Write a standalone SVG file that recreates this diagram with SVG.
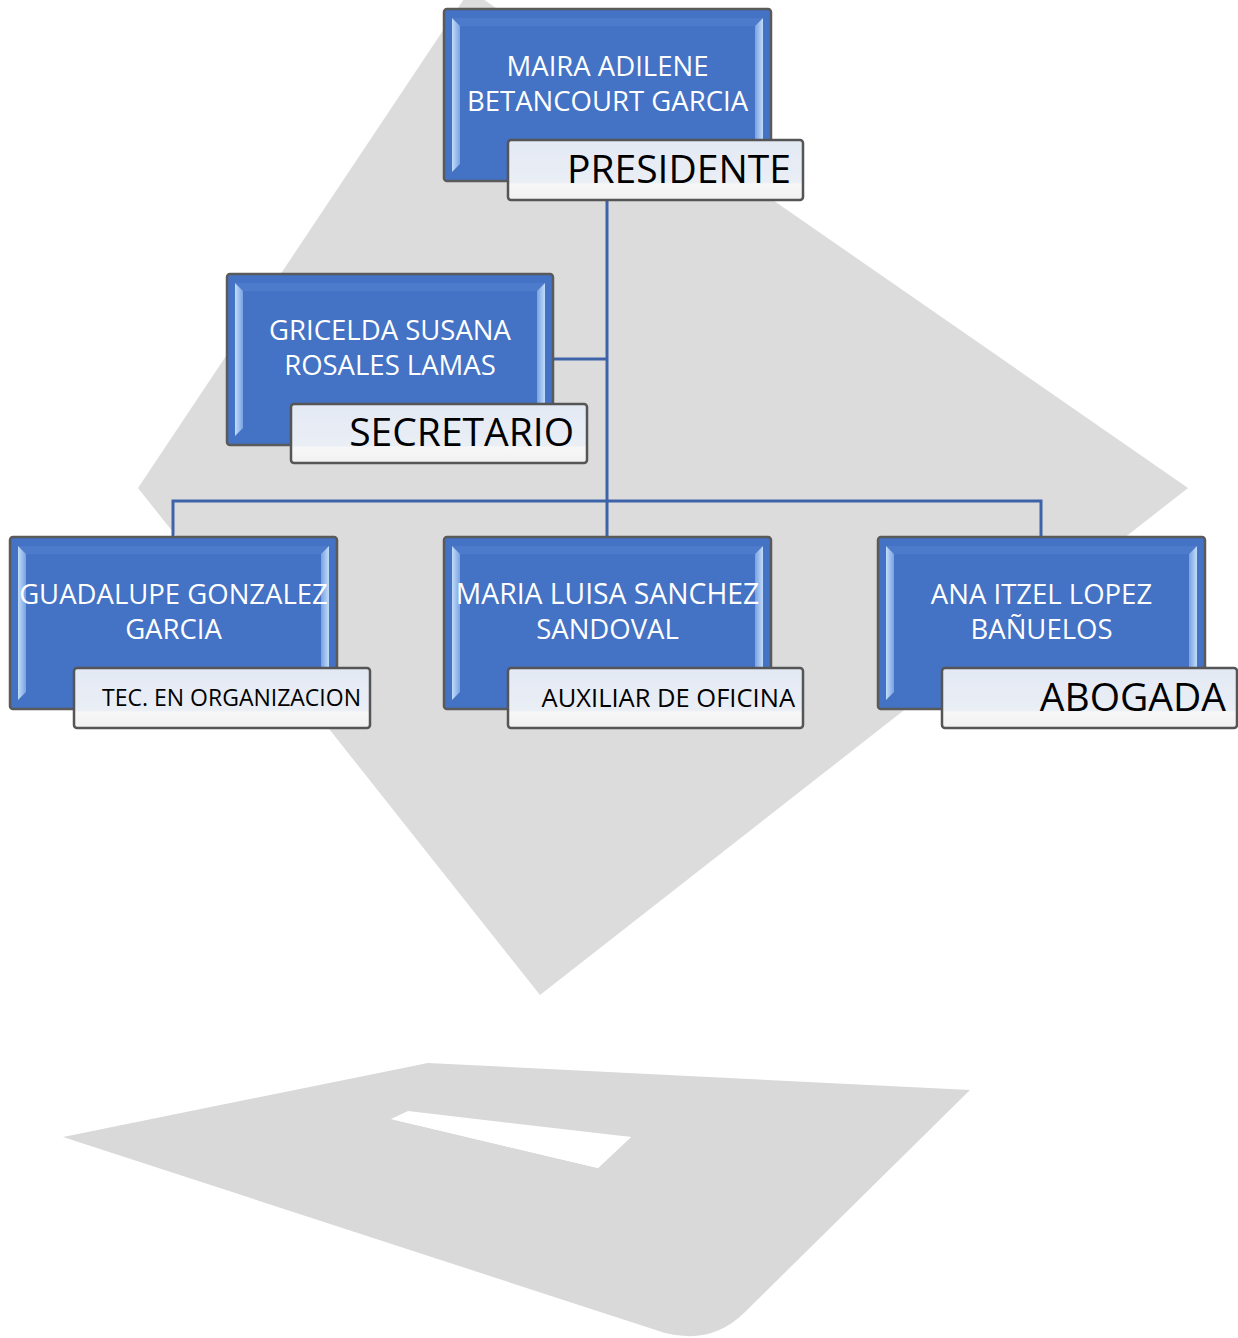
<svg xmlns="http://www.w3.org/2000/svg" width="1238" height="1338" viewBox="0 0 1238 1338">
<defs>
<linearGradient id="lblGrad" x1="0" y1="0" x2="0" y2="1">
<stop offset="0" stop-color="#e3e9f4"/>
<stop offset="0.7" stop-color="#eaeef5"/>
<stop offset="0.74" stop-color="#f7f7f8"/>
<stop offset="1" stop-color="#f1f1f2"/>
</linearGradient>
<linearGradient id="bevL" x1="0" y1="0" x2="1" y2="0">
<stop offset="0" stop-color="#c3ddf9"/>
<stop offset="1" stop-color="#78a2e2"/>
</linearGradient>
<linearGradient id="bevR" x1="1" y1="0" x2="0" y2="0">
<stop offset="0" stop-color="#c3ddf9"/>
<stop offset="1" stop-color="#78a2e2"/>
</linearGradient>
</defs>
<style>
.box{fill:#4472c4;stroke:#5a5a5a;stroke-width:2.5}
.topb{fill:#4d7bcb}
.bl{fill:url(#bevL)}
.br{fill:url(#bevR)}
.lbl{fill:url(#lblGrad);stroke:#555;stroke-width:2.5}
.name{font-family:"Open Sans","Noto Sans",sans-serif;font-size:27.5px;fill:#ffffff;text-anchor:middle}
.role{font-family:"Open Sans","Noto Sans",sans-serif;font-size:39px;fill:#000;text-anchor:end}
.roles{font-family:"Open Sans","Noto Sans",sans-serif;font-size:23px;fill:#000;text-anchor:end}
.conn{stroke:#3f63a9;stroke-width:3;fill:none}
</style>

<g id="background">
<polygon points="470,-10 1188,488 540,995 138,488" fill="#dcdcdc"/>
<path d="M63,1137 L428,1063 L970,1090 L745,1312 Q712,1345 665,1333 Z M391,1119 L631,1137 L598,1168 Z" fill="#d9d9d9" fill-rule="evenodd"/>
<polygon points="391,1119 408,1111 631,1137 598,1168" fill="#ffffff"/>
</g>

<g id="connectors">
<line class="conn" x1="607" y1="200" x2="607" y2="538" stroke="#2f5597"/>
<line class="conn" x1="553" y1="359" x2="607" y2="359"/>
<polyline class="conn" points="173,538 173,501 1041,501 1041,538"/>
</g>

<g id="node-presidente">
<rect class="box" x="444" y="9" width="327" height="172" rx="3"/>
<polygon class="topb" points="452,18 763,18 755,26 460,26"/>
<polygon class="bl" points="452,18 460,26 460,164 452,172"/>
<polygon class="br" points="763,18 755,26 755,164 763,172"/>
<text class="name" x="607.5" y="76">MAIRA ADILENE</text>
<text class="name" x="607.5" y="111">BETANCOURT GARCIA</text>
<rect class="lbl" x="508" y="140" width="295" height="60" rx="3"/>
<text class="role" x="791" y="183">PRESIDENTE</text>
</g>

<g id="node-secretario">
<rect class="box" x="227" y="274" width="326" height="171" rx="3"/>
<polygon class="topb" points="235,283 545,283 537,291 243,291"/>
<polygon class="bl" points="235,283 243,291 243,428 235,436"/>
<polygon class="br" points="545,283 537,291 537,428 545,436"/>
<text class="name" x="390" y="340">GRICELDA SUSANA</text>
<text class="name" x="390" y="375">ROSALES LAMAS</text>
<rect class="lbl" x="291" y="404" width="296" height="59" rx="3"/>
<text class="role" x="574" y="446">SECRETARIO</text>
</g>

<g id="node-tec">
<rect class="box" x="10" y="537" width="327" height="172" rx="3"/>
<polygon class="topb" points="18,546 329,546 321,554 26,554"/>
<polygon class="bl" points="18,546 26,554 26,692 18,700"/>
<polygon class="br" points="329,546 321,554 321,692 329,700"/>
<text class="name" x="173.5" y="604">GUADALUPE GONZALEZ</text>
<text class="name" x="173.5" y="639">GARCIA</text>
<rect class="lbl" x="74" y="668" width="296" height="60" rx="3"/>
<text class="roles" x="361" y="706">TEC. EN ORGANIZACION</text>
</g>

<g id="node-auxiliar">
<rect class="box" x="444" y="537" width="327" height="172" rx="3"/>
<polygon class="topb" points="452,546 763,546 755,554 460,554"/>
<polygon class="bl" points="452,546 460,554 460,692 452,700"/>
<polygon class="br" points="763,546 755,554 755,692 763,700"/>
<text class="name" x="607.5" y="604" style="font-size:28.3px">MARIA LUISA SANCHEZ</text>
<text class="name" x="607.5" y="639">SANDOVAL</text>
<rect class="lbl" x="508" y="668" width="295" height="60" rx="3"/>
<text class="roles" x="795" y="707" style="font-size:25.5px">AUXILIAR DE OFICINA</text>
</g>

<g id="node-abogada">
<rect class="box" x="878" y="537" width="327" height="172" rx="3"/>
<polygon class="topb" points="886,546 1197,546 1189,554 894,554"/>
<polygon class="bl" points="886,546 894,554 894,692 886,700"/>
<polygon class="br" points="1197,546 1189,554 1189,692 1197,700"/>
<text class="name" x="1041.5" y="604">ANA ITZEL LOPEZ</text>
<text class="name" x="1041.5" y="639">BAÑUELOS</text>
<rect class="lbl" x="942" y="668" width="295" height="60" rx="3"/>
<text class="role" x="1226" y="711">ABOGADA</text>
</g>
</svg>
